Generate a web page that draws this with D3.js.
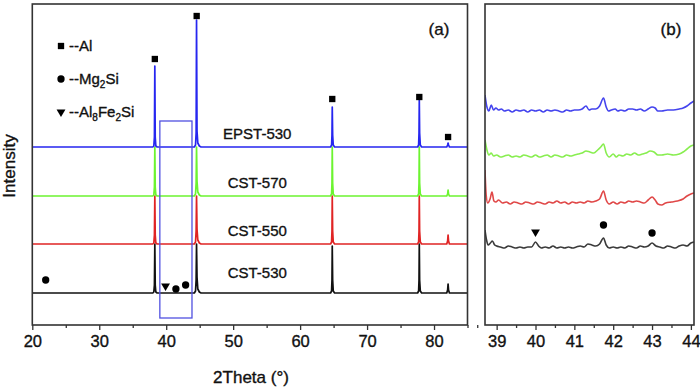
<!DOCTYPE html>
<html><head><meta charset="utf-8">
<script src="https://cdn.jsdelivr.net/npm/d3@7"></script>
<style>
body{margin:0;background:#fff;}
svg{display:block;font-family:"Liberation Sans",Arial,sans-serif;}
svg text{stroke:#111;stroke-width:0.35px;}
</style></head>
<body><svg id="c" width="700" height="390"></svg>
<script>
// ---------- DATA ----------
const seriesNames = ["CST-530","CST-550","CST-570","EPST-530"];
const seriesColorsA = ["#111111","#e02424","#6cf430","#2626f0"];
const seriesColorsB = ["#3a3a3a","#e04848","#88ee50","#4444ee"];

// Panel (a): 2Theta vs. offset intensity (a.u.)
const cst530 = [[20,32],[38.0,32],[38.15,33],[38.24,40],[38.3,81],[38.36,40],[38.45,33],[38.65,32],[44.2,32],[44.38,34],[44.47,45],[44.53,81],[44.6,48],[44.72,36],[44.95,33],[45.2,32],[64.55,32],[64.7,34],[64.76,45],[64.8,79],[64.86,45],[64.95,34],[65.15,32],[77.55,32],[77.7,34],[77.76,45],[77.8,81],[77.85,45],[77.95,34],[78.15,32],[81.9,32],[82.03,35],[82.1,41],[82.17,35],[82.3,32],[85,32]];
const cst550 = [[20,81],[38.0,81],[38.15,82],[38.24,90],[38.3,129],[38.36,90],[38.45,82],[38.65,81],[44.2,81],[44.38,83],[44.47,94],[44.53,129],[44.6,96],[44.72,85],[44.95,82],[45.2,81],[64.55,81],[64.7,83],[64.76,94],[64.8,129],[64.86,94],[64.95,83],[65.15,81],[77.55,81],[77.7,83],[77.76,94],[77.8,129],[77.85,94],[77.95,83],[78.15,81],[81.9,81],[82.03,84],[82.1,90],[82.17,84],[82.3,81],[85,81]];
const cst570 = [[20,129],[38.0,129],[38.15,130],[38.24,138],[38.3,178],[38.36,138],[38.45,130],[38.65,129],[44.2,129],[44.38,131],[44.47,142],[44.53,178],[44.6,144],[44.72,133],[44.95,130],[45.2,129],[64.55,129],[64.7,131],[64.76,142],[64.8,178],[64.86,142],[64.95,131],[65.15,129],[77.55,129],[77.7,131],[77.76,142],[77.8,178],[77.85,142],[77.95,131],[78.15,129],[81.9,129],[82.03,131],[82.1,135],[82.17,131],[82.3,129],[85,129]];
const epst530 = [[20,178],[38.0,178],[38.15,179],[38.24,188],[38.3,259],[38.36,188],[38.45,179],[38.65,178],[44.2,178],[44.38,180],[44.47,192],[44.53,305],[44.6,194],[44.72,182],[44.95,179],[45.2,178],[64.55,178],[64.7,180],[64.76,190],[64.8,218],[64.86,190],[64.95,180],[65.15,178],[77.55,178],[77.7,180],[77.76,192],[77.8,225],[77.85,192],[77.95,180],[78.15,178],[81.9,178],[82.03,180],[82.1,182],[82.17,180],[82.3,178],[85,178]];
const seriesA = [cst530, cst550, cst570, epst530];

// Panel (b): zoomed region 38.7-44.08
const cst530b = [[38.70,95],[38.74,85],[38.78,80],[38.84,82],[38.89,84],[38.95,80],[39.0,79],[39.1,78],[39.2,77],[39.3,79],[39.4,78],[39.5,77],[39.6,78],[39.7,77],[39.8,78],[39.9,78],[40.0,83],[40.08,79],[40.15,77],[40.25,78],[40.35,77],[40.45,79],[40.55,77],[40.65,78],[40.75,77],[40.85,78],[40.95,77],[41.05,78],[41.15,79],[41.25,78],[41.35,81],[41.45,80],[41.55,79],[41.65,81],[41.75,87],[41.82,80],[41.9,77],[42.0,78],[42.1,77],[42.2,78],[42.3,77],[42.4,79],[42.5,78],[42.6,77],[42.7,79],[42.8,78],[42.9,79],[43.0,82],[43.1,79],[43.2,78],[43.3,77],[43.4,79],[43.5,78],[43.6,77],[43.7,79],[43.8,80],[43.9,79],[44.0,82],[44.08,83]];
const cst550b = [[38.70,155],[38.73,130],[38.77,122],[38.83,126],[38.88,133],[38.93,124],[38.98,123],[39.05,125],[39.15,122],[39.25,123],[39.35,121],[39.45,123],[39.55,122],[39.65,121],[39.75,123],[39.85,122],[39.95,121],[40.05,123],[40.15,122],[40.25,121],[40.35,123],[40.45,122],[40.55,124],[40.65,122],[40.75,123],[40.85,121],[40.95,123],[41.05,122],[41.15,123],[41.25,122],[41.35,124],[41.45,123],[41.55,124],[41.65,126],[41.75,134],[41.82,125],[41.9,121],[42.0,123],[42.1,121],[42.2,123],[42.3,122],[42.4,124],[42.5,123],[42.6,124],[42.7,123],[42.8,122],[42.9,125],[43.0,128],[43.08,125],[43.15,121],[43.25,120],[43.35,122],[43.5,123],[43.65,124],[43.8,126],[43.9,129],[44.0,131],[44.08,132]];
const cst570b = [[38.70,185],[38.75,175],[38.80,170],[38.86,172],[38.92,169],[39.0,170],[39.1,168],[39.2,169],[39.3,170],[39.4,168],[39.5,169],[39.6,168],[39.7,170],[39.8,169],[39.9,168],[40.0,170],[40.1,168],[40.2,169],[40.3,170],[40.4,168],[40.5,170],[40.6,169],[40.7,168],[40.8,170],[40.9,169],[41.0,170],[41.1,171],[41.2,172],[41.3,174],[41.4,173],[41.5,172],[41.6,175],[41.68,178],[41.75,181],[41.82,172],[41.9,168],[42.0,171],[42.08,168],[42.15,170],[42.25,169],[42.35,171],[42.45,170],[42.55,172],[42.65,170],[42.75,171],[42.85,172],[42.95,174],[43.05,173],[43.15,170],[43.25,170],[43.4,171],[43.55,170],[43.7,171],[43.8,173],[43.9,176],[44.0,179],[44.08,180]];
const epst530b = [[38.70,230],[38.75,218],[38.80,214],[38.86,220],[38.92,215],[38.98,217],[39.05,215],[39.12,216],[39.2,214],[39.3,215],[39.4,213],[39.5,215],[39.6,214],[39.7,215],[39.8,213],[39.9,215],[40.0,214],[40.1,215],[40.2,213],[40.3,215],[40.4,214],[40.5,215],[40.6,214],[40.7,213],[40.8,215],[40.9,214],[41.0,215],[41.1,215],[41.2,216],[41.3,219],[41.38,215],[41.45,216],[41.55,216],[41.65,219],[41.75,227],[41.82,218],[41.88,214],[41.95,215],[42.05,216],[42.12,214],[42.2,215],[42.3,214],[42.4,216],[42.5,216],[42.6,215],[42.7,216],[42.8,214],[42.9,216],[43.0,218],[43.08,217],[43.15,214],[43.25,214],[43.4,215],[43.55,215],[43.7,216],[43.8,217],[43.9,219],[44.0,222],[44.08,224]];
const seriesB = [cst530b, cst550b, cst570b, epst530b];

// sample labels in panel (a): [2Theta, intensity]
const labelPos = [[53.6,47],[53.6,89],[53.6,137],[53.6,186]];

// phase markers
const alMarkersA = [[38.3,266],[44.55,309],[64.8,226],[77.8,228],[82.1,188]];
const mg2siMarkersA = [[22.0,45],[41.45,36],[42.9,40]];
const alfesiMarkersA = [[39.9,39]];
const mg2siMarkersB = [[41.75,100],[43.0,92]];
const alfesiMarkersB = [[40.0,93]];

// zoom box in panel (a): [x0,x1,y0,y1]
const zoomBox = [39.05, 43.85, 7, 204];

const ticksA = [20,30,40,50,60,70,80];
const minorA = [25,35,45,55,65,75,85];
const ticksB = [39,40,41,42,43,44];
const minorB = [38.5,39.5,40.5,41.5,42.5,43.5];

// ---------- DRAW ----------
const svg = d3.select("#c");
const yTop = 4, yBottom = 325;
const xa = d3.scaleLinear().domain([20,85]).range([32.3,467.5]);
const xb = d3.scaleLinear().domain([38.7,44.08]).range([485,694]);
const y = d3.scaleLinear().domain([0,321]).range([yBottom,yTop]);

const lineA = d3.line().x(d=>xa(d[0])).y(d=>y(d[1]));
const lineB = d3.line().x(d=>xb(d[0])).y(d=>y(d[1])).curve(d3.curveMonotoneX);

// panel a traces
seriesA.forEach((s,i)=>{
  svg.append("path").attr("d",lineA(s)).attr("fill","none")
    .attr("stroke",seriesColorsA[i]).attr("stroke-width",1.7).attr("stroke-linejoin","round");
});
// panel b traces
svg.append("clipPath").attr("id","cb").append("rect")
  .attr("x",485).attr("y",yTop).attr("width",209).attr("height",yBottom-yTop);
seriesB.forEach((s,i)=>{
  svg.append("path").attr("d",lineB(s)).attr("fill","none").attr("clip-path","url(#cb)")
    .attr("stroke",seriesColorsB[i]).attr("stroke-width",1.6).attr("stroke-linejoin","round");
});

// zoom box
svg.append("rect").attr("x",xa(zoomBox[0])).attr("y",y(zoomBox[3]))
  .attr("width",xa(zoomBox[1])-xa(zoomBox[0])).attr("height",y(zoomBox[2])-y(zoomBox[3]))
  .attr("fill","none").attr("stroke","#5050e0").attr("stroke-width",1.3);

// labels
labelPos.forEach((p,i)=>{
  svg.append("text").attr("x",xa(p[0])).attr("y",y(p[1])).attr("text-anchor","middle")
    .attr("font-size",15).attr("fill","#111").text(seriesNames[i]);
});

// markers
const sq = d3.symbol().type(d3.symbolSquare).size(40);
const ci = d3.symbol().type(d3.symbolCircle).size(42);
const tri = d3.symbol().type(d3.symbolTriangle).size(34);
function marks(arr, sx, sym, rot){
  arr.forEach(p=>{
    svg.append("path").attr("d",sym())
      .attr("transform",`translate(${sx(p[0])},${y(p[1])})${rot?" rotate(180)":""}`)
      .attr("fill","#000");
  });
}
marks(alMarkersA, xa, sq, false);
marks(mg2siMarkersA, xa, ci, false);
marks(alfesiMarkersA, xa, tri, true);
marks(mg2siMarkersB, xb, ci, false);
marks(alfesiMarkersB, xb, tri, true);

// legend
const legend = [
  {sym:sq, rot:false, y:46, parts:[["--Al",0]]},
  {sym:ci, rot:false, y:79, parts:[["--Mg",0],["2",1],["Si",0]]},
  {sym:tri, rot:true, y:112, parts:[["--Al",0],["8",1],["Fe",0],["2",1],["Si",0]]}
];
legend.forEach(l=>{
  svg.append("path").attr("d",l.sym()).attr("transform",`translate(61,${l.y})${l.rot?" rotate(180)":""}`).attr("fill","#000");
  const t = svg.append("text").attr("x",69).attr("y",l.y+5).attr("font-size",15).attr("fill","#111");
  let prev = 0;
  l.parts.forEach(pp=>{
    const shift = pp[1]?4:0;
    t.append("tspan").attr("dy",shift-prev).attr("font-size",pp[1]?10:15).text(pp[0]);
    prev = shift;
  });
});

// frames
svg.append("rect").attr("x",32.3).attr("y",yTop).attr("width",467.5-32.3).attr("height",yBottom-yTop)
  .attr("fill","none").attr("stroke","#333").attr("stroke-width",1.6);
svg.append("rect").attr("x",485).attr("y",yTop).attr("width",209).attr("height",yBottom-yTop)
  .attr("fill","none").attr("stroke","#333").attr("stroke-width",1.6);

// axes
function axis(sc, ticks, minor){
  const g = svg.append("g").attr("transform",`translate(0,${yBottom})`)
    .call(d3.axisBottom(sc).tickValues(ticks).tickSize(5).tickSizeOuter(0).tickPadding(5).tickFormat(d3.format("d")));
  g.select(".domain").remove();
  g.selectAll("line").attr("stroke","#333").attr("stroke-width",1.3);
  g.selectAll("text").attr("font-size",16.5).attr("fill","#111").attr("font-family","Liberation Sans, Arial, sans-serif");
  const m = svg.append("g").attr("transform",`translate(0,${yBottom})`)
    .call(d3.axisBottom(sc).tickValues(minor).tickSize(3).tickSizeOuter(0).tickFormat(""));
  m.select(".domain").remove();
  m.selectAll("line").attr("stroke","#333").attr("stroke-width",1.3);
}
axis(xa, ticksA, minorA);
axis(xb, ticksB, minorB);

// titles
svg.append("text").attr("x",251).attr("y",383).attr("text-anchor","middle").attr("font-size",17).attr("fill","#111").text("2Theta (°)");
svg.append("text").attr("transform","translate(15,166) rotate(-90)").attr("text-anchor","middle").attr("font-size",17).attr("fill","#111").text("Intensity");
svg.append("text").attr("x",439).attr("y",35).attr("text-anchor","middle").attr("font-size",17).attr("fill","#111").text("(a)");
svg.append("text").attr("x",671).attr("y",35).attr("text-anchor","middle").attr("font-size",17).attr("fill","#111").text("(b)");
</script></body></html>
